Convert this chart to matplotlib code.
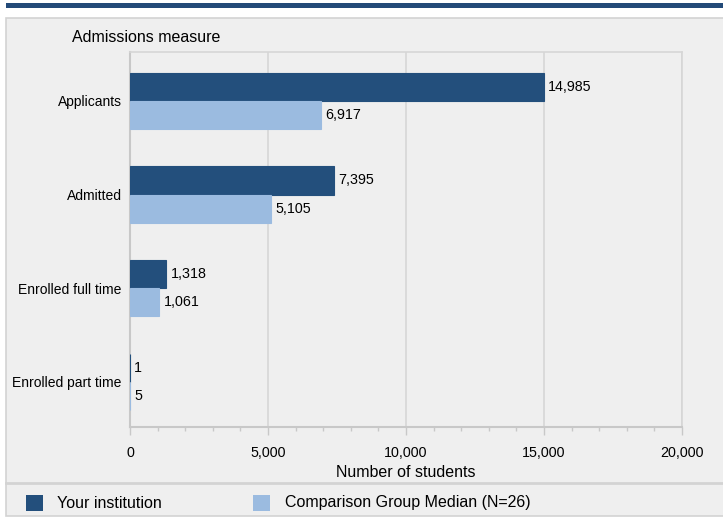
import matplotlib.pyplot as plt
from matplotlib.patches import Rectangle
from matplotlib.ticker import MultipleLocator, FuncFormatter
import numpy as np

plt.rcParams["font.family"] = ["Liberation Sans", "DejaVu Sans"]

categories = ["Applicants", "Admitted", "Enrolled full time", "Enrolled part time"]
your_institution = [14985, 7395, 1318, 1]
comparison_median = [6917, 5105, 1061, 5]
legend_labels = ["Your institution", "Comparison Group Median (N=26)"]

dark = "#234F7C"
light = "#9BBBE0"
bg = "#EFEFEF"
grid_c = "#D6D6D6"

fig = plt.figure(figsize=(7.23, 5.18), dpi=100)
fig.patch.set_facecolor("white")

# top band and panel (behind the axes)
fig.patches.append(Rectangle((6 / 723, 1 - 7.5 / 518), 1, 4.5 / 518, transform=fig.transFigure,
                             facecolor="#234A78", edgecolor="none", zorder=-2))
fig.patches.append(Rectangle((6 / 723, 1 - 516 / 518), 1, 498 / 518, transform=fig.transFigure,
                             facecolor=bg, edgecolor="#D3D3D3", linewidth=1.2, zorder=-2))
fig.lines.append(plt.Line2D([6 / 723, 1], [1 - 483 / 518] * 2, transform=fig.transFigure,
                            color="#D3D3D3", linewidth=2, zorder=-1))

ax = fig.add_axes([130 / 723, 1 - 427 / 518, 552 / 723, 375 / 518])
ax.set_facecolor(bg)

y = np.arange(len(categories))
h = 0.3
# thin edge so the tiny values (1, 5) still show as a sliver like the original
ax.barh(y - h / 2, your_institution, height=h, color=dark, edgecolor=dark, linewidth=0.8, zorder=3)
ax.barh(y + h / 2, comparison_median, height=h, color=light, edgecolor=light, linewidth=0.8, zorder=3)

for i in range(len(categories)):
    ax.annotate(f"{your_institution[i]:,}", (your_institution[i], y[i] - h / 2),
                xytext=(3, 0), textcoords="offset points", va="center", ha="left", fontsize=10.3)
    ax.annotate(f"{comparison_median[i]:,}", (comparison_median[i], y[i] + h / 2),
                xytext=(3, 0), textcoords="offset points", va="center", ha="left", fontsize=10.3)

ax.set_xlim(0, 20000)
ax.set_ylim(3.48, -0.52)
ax.set_yticks(y)
ax.set_yticklabels(categories, fontsize=10)
ax.tick_params(axis="y", length=0, pad=6)
ax.xaxis.set_major_locator(MultipleLocator(5000))
ax.xaxis.set_minor_locator(MultipleLocator(1000))
ax.xaxis.set_major_formatter(FuncFormatter(lambda v, p: f"{int(v):,}"))
ax.tick_params(axis="x", which="major", length=6, color="#C8C8C8", labelsize=10.3, pad=8, width=1)
ax.tick_params(axis="x", which="minor", length=3, color="#C8C8C8", width=1)
ax.grid(axis="x", which="major", color=grid_c, linewidth=1.2, zorder=0)
for s in ["top", "right"]:
    ax.spines[s].set_color(grid_c)
    ax.spines[s].set_linewidth(1.2)
for s in ["left", "bottom"]:
    ax.spines[s].set_color("#C8C8C8")
    ax.spines[s].set_linewidth(1.5)
ax.set_xlabel("Number of students", fontsize=11.5, labelpad=3)

fig.text(72 / 723, 1 - 37 / 518, "Admissions measure", fontsize=11.5, va="center", ha="left")

# legend
fig.patches.append(Rectangle((26 / 723, 1 - 511 / 518), 17 / 723, 16 / 518, transform=fig.transFigure,
                             facecolor=dark, edgecolor="none"))
fig.text(57 / 723, 1 - 503 / 518, legend_labels[0], fontsize=11.5, va="center", ha="left")
fig.patches.append(Rectangle((253 / 723, 1 - 511 / 518), 17 / 723, 16 / 518, transform=fig.transFigure,
                             facecolor=light, edgecolor="none"))
fig.text(285 / 723, 1 - 503 / 518, legend_labels[1], fontsize=11.5, va="center", ha="left")

fig.savefig("out.png", dpi=100, facecolor=fig.get_facecolor())
